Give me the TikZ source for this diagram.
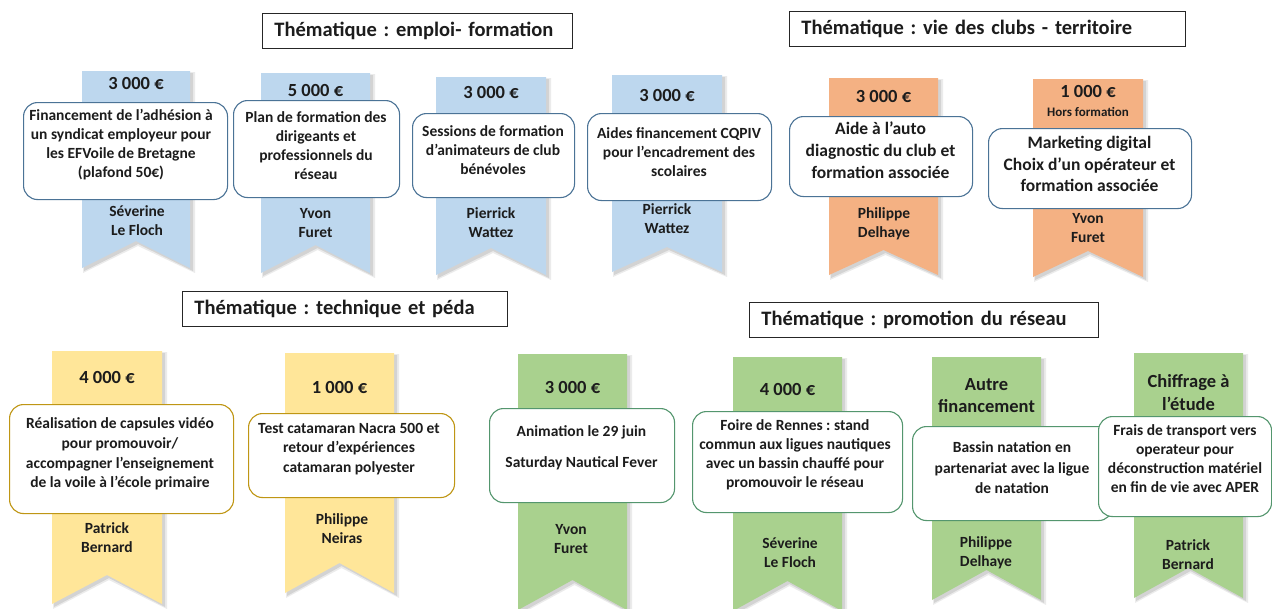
\documentclass[tikz,border=0pt]{standalone}
\usepackage{fontspec}
\setmainfont{Carlito}
\frenchspacing
\definecolor{rblue}{RGB}{189,215,238}
\definecolor{rorange}{RGB}{244,177,131}
\definecolor{ryellow}{RGB}{255,230,153}
\definecolor{rgreen}{RGB}{169,209,142}
\definecolor{bblue}{RGB}{75,115,150}
\definecolor{bgold}{RGB}{191,150,20}
\definecolor{bgreen}{RGB}{84,150,110}
\definecolor{txt}{RGB}{28,28,28}
\newcommand\ribbonshape[6]{%
  \fill[black,opacity=.10] (#1+2,#3+2) -- (#2+3,#3+2) -- (#2+3,#4+3) -- ({(#1+#2)/2+2},#5+3) -- (#1+2,#4+3) -- cycle;
  \fill[black,opacity=.08] (#1+1,#3+1) -- (#2+5,#3+1) -- (#2+5,#4+5) -- ({(#1+#2)/2+2},#5+5) -- (#1+1,#4+5) -- cycle;
  \fill[#6] (#1,#3) -- (#2,#3) -- (#2,#4) -- ({(#1+#2)/2},#5) -- (#1,#4) -- cycle;}
\newcommand\cardbox[6]{%
  \node[card=#6, minimum width={#4-#2}, minimum height={#5-#3}, anchor=north west] (#1) at (#2,#3) {};}
\tikzset{
  card/.style={draw=#1, line width=1.1pt, fill=white, rounded corners=14pt, inner sep=0pt},
  body/.style={align=center, font=\bfseries\fontsize{15.5}{19}\selectfont, text=txt, inner sep=0pt},
  bigbody/.style={align=center, font=\bfseries\fontsize{17.5}{22}\selectfont, text=txt, inner sep=0pt},
  amount/.style={align=center, font=\bfseries\fontsize{18.5}{22}\selectfont, text=txt, inner sep=0pt},
  who/.style={align=center, font=\bfseries\fontsize{15.5}{19}\selectfont, text=txt, inner sep=0pt},
  themebox/.style={draw=black!85, line width=0.9pt, fill=white, anchor=north west, minimum height=35pt,
    inner xsep=12pt, inner ysep=0pt, align=left, font=\bfseries\fontsize{20.5}{22}\selectfont, text=txt},
}
\begin{document}
\begin{tikzpicture}[x=1pt,y=-1pt]
\useasboundingbox (0,0) rectangle (1272,608);
\fill[white] (0,0) rectangle (1272,608);

% ---------- titles
\node[themebox, text width=286pt] (t1) at (262,13) {Thématique : emploi- formation};
\node[themebox, text width=372pt] (t2) at (789,11) {Thématique : vie des clubs - territoire};
\node[themebox, text width=301pt] (t3) at (182,291) {Thématique : technique et péda};
\node[themebox, text width=325pt] (t4) at (749,302) {Thématique : promotion du réseau};

% ---------- ribbons
\ribbonshape{82}{190}{71}{268}{241}{rblue}
\ribbonshape{261}{370}{73}{273}{245}{rblue}
\ribbonshape{436}{546}{77}{275}{248}{rblue}
\ribbonshape{612}{722}{75}{272}{247}{rblue}
\ribbonshape{829}{938}{78}{275}{250}{rorange}
\ribbonshape{1033}{1143}{79}{277}{251}{rorange}
\ribbonshape{52}{162}{351}{604}{575}{ryellow}
\ribbonshape{285}{394}{353}{593}{563}{ryellow}
\ribbonshape{518}{627}{354}{610}{580}{rgreen}
\ribbonshape{733}{842}{357}{611}{581}{rgreen}
\ribbonshape{932}{1041}{357}{600}{570}{rgreen}
\ribbonshape{1134}{1243}{353}{598}{568}{rgreen}

% ---------- amounts
\node[amount] (a1) at (136,83) {3 000 €};
\node[amount] (a2) at (315.5,90) {5 000 €};
\node[amount] (a3) at (491,92) {3 000 €};
\node[amount] (a4) at (667,95) {3 000 €};
\node[amount] (a5) at (883.5,96) {3 000 €};
\node[amount] (a6) at (1088,91) {1 000 €};
\node[align=center, font=\bfseries\fontsize{13}{15}\selectfont, text=txt, inner sep=0pt] (a6b) at (1088,112) {Hors formation};
\node[amount] (a7) at (107,377) {4 000 €};
\node[amount] (a8) at (339.5,387) {1 000 €};
\node[amount] (a9) at (572.5,387) {3 000 €};
\node[amount] (a10) at (787.5,389) {4 000 €};
\node[amount, font=\bfseries\fontsize{18.5}{22}\selectfont] (a11) at (986.5,396) {Autre\\financement};
\node[amount, font=\bfseries\fontsize{18.5}{23}\selectfont] (a12) at (1188.5,393) {Chiffrage à\\l’étude};

% ---------- cards
\cardbox{c1}{23}{102}{227}{199}{bblue}
\cardbox{c2}{233}{100}{399}{197}{bblue}
\cardbox{c3}{412}{113}{574}{197}{bblue}
\cardbox{c4}{587}{113}{771}{200}{bblue}
\cardbox{c5}{789}{116}{972}{196}{bblue}
\cardbox{c6}{988}{128}{1191}{208}{bblue}
\cardbox{c7}{9}{404}{233}{513}{bgold}
\cardbox{c8}{248}{413}{454}{497}{bgold}
\cardbox{c9}{489}{408}{674}{502}{bgreen}
\cardbox{c10}{692}{411}{902}{512}{bgreen}
\cardbox{c11}{912}{426}{1112}{520}{bgreen}
\cardbox{c12}{1098}{416}{1271}{516}{bgreen}

% ---------- card texts
\node[body] (x1) at (121,145) {Financement de l’adhésion à\\un syndicat  employeur pour\\les EFVoile de Bretagne\\(plafond  50€)};
\node[body] (x2) at (316,146) {Plan de formation des\\dirigeants et\\professionnels du\\réseau};
\node[body] (x3) at (493,150) {Sessions de formation\\d’animateurs de club\\bénévoles};
\node[body] (x4) at (679,152) {Aides financement CQPIV\\pour l’encadrement des\\scolaires};
\node[bigbody] (x5) at (880.5,150) {Aide à l’auto\\diagnostic du club et\\formation associée};
\node[bigbody, font=\bfseries\fontsize{17.5}{21.5}\selectfont] (x6) at (1089.5,164) {Marketing digital\\Choix d’un opérateur et\\formation associée};
\node[body, font=\bfseries\fontsize{15.5}{19.6}\selectfont] (x7) at (120,454) {Réalisation de capsules vidéo\\pour promouvoir/\\accompagner  l’enseignement\\de la voile à l’école primaire};
\node[body, font=\bfseries\fontsize{15.5}{19.5}\selectfont] (x8) at (349,449) {Test catamaran  Nacra 500 et\\retour d’expériences\\catamaran  polyester};
\node[body] (x9) at (581.5,448) {Animation le 29 juin\\[12pt]Saturday Nautical  Fever};
\node[body] (x10) at (795,455) {Foire de Rennes : stand\\commun aux ligues  nautiques\\avec un bassin  chauffé  pour\\promouvoir  le réseau};
\node[body, font=\bfseries\fontsize{15.5}{20.5}\selectfont] (x11) at (1012,468) {Bassin  natation en\\partenariat avec la ligue\\de natation};
\node[body] (x12) at (1185,459) {Frais de transport vers\\operateur pour\\déconstruction  matériel\\en fin de vie  avec APER};

% ---------- people
\node[who] (p1) at (137,221) {Séverine\\Le Floch};
\node[who] (p2) at (315.5,223) {Yvon\\Furet};
\node[who] (p3) at (491,223) {Pierrick\\Wattez};
\node[who] (p4) at (667,219) {Pierrick\\Wattez};
\node[who] (p5) at (884,224) {Philippe\\Delhaye};
\node[who] (p6) at (1088,228) {Yvon\\Furet};
\node[who] (p7) at (107,538) {Patrick\\Bernard};
\node[who] (p8) at (342,529) {Philippe\\Neiras};
\node[who] (p9) at (571,539) {Yvon\\Furet};
\node[who] (p10) at (790,553) {Séverine\\Le Floch};
\node[who] (p11) at (986,553) {Philippe\\Delhaye};
\node[who] (p12) at (1188,555) {Patrick\\Bernard};
\end{tikzpicture}
\end{document}
